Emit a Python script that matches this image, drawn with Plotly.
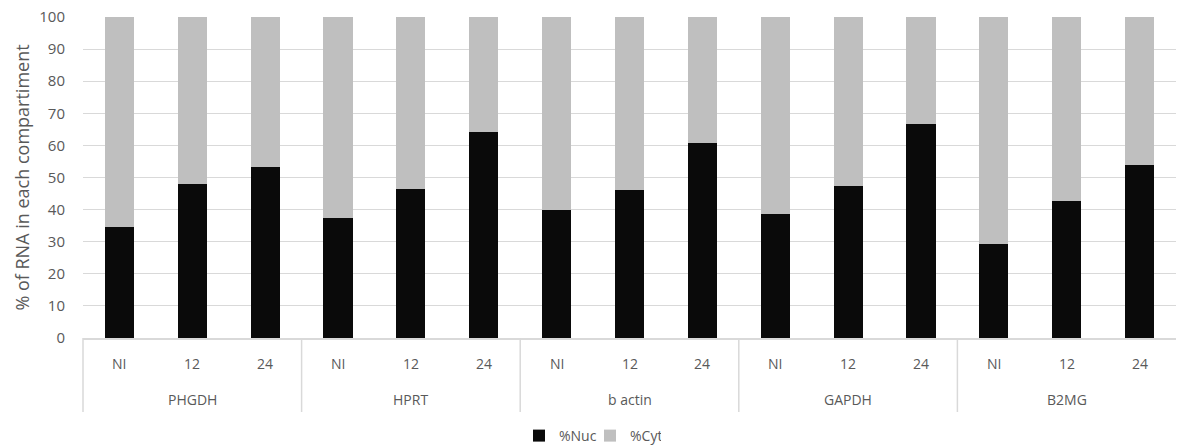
import plotly.graph_objects as go

genes = ["PHGDH", "HPRT", "b actin", "GAPDH", "B2MG"]
times = ["NI", "12", "24"]
nuc = [34.5, 48.1, 53.3, 37.4, 46.5, 64.3, 40.0, 46.0, 60.8, 38.7, 47.5, 66.7, 29.4, 42.8, 53.8]
cyt = [100 - v for v in nuc]

cats = [f"{g}|{t}" for g in genes for t in times]
n_t = len(times)

font_color = "#595959"
grid_color = "#d9d9d9"
FONT = "Open Sans"

fig = go.Figure()
fig.add_trace(go.Bar(x=cats, y=nuc, name="%Nuc",
                     marker=dict(color="#0a0a0a", line=dict(width=0))))
fig.add_trace(go.Bar(x=cats, y=cyt, name="%Cyt",
                     marker=dict(color="#bfbfbf", line=dict(width=0))))

annotations = []
# inner labels (time points)
for c in cats:
    annotations.append(dict(x=c, y=0, xref="x", yref="paper", text=c.split("|")[1],
                            showarrow=False, yanchor="middle", yshift=-25,
                            font=dict(family=FONT, size=14, color=font_color)))
# outer labels (genes), centred under middle category
for gi, g in enumerate(genes):
    annotations.append(dict(x=gi * n_t + (n_t - 1) / 2, y=0, xref="x", yref="paper", text=g,
                            showarrow=False, yanchor="middle", yshift=-61,
                            font=dict(family=FONT, size=14, color=font_color)))

W, H = 1180, 446
M_L, M_R, M_T, M_B = 83, 4, 17, 108
plot_h = H - M_T - M_B
div_depth = -74 / plot_h
shapes = [dict(type="line", xref="paper", yref="paper", x0=0, x1=0, y0=0, y1=div_depth,
               line=dict(color=grid_color, width=1.5))]
for gi in range(1, len(genes)):
    xpos = gi * n_t - 0.5
    shapes.append(dict(type="line", xref="x", yref="paper", x0=xpos, x1=xpos, y0=0, y1=div_depth,
                       line=dict(color=grid_color, width=1.5)))

fig.update_layout(
    barmode="stack",
    bargap=0.6,
    width=W, height=H,
    margin=dict(l=M_L, r=M_R, t=M_T, b=M_B),
    paper_bgcolor="white", plot_bgcolor="white",
    font=dict(family=FONT, size=14, color=font_color),
    showlegend=True,
    legend=dict(orientation="h", x=0.5, xanchor="center", xref="container",
                yref="container", y=1 - 436 / H, yanchor="middle",
                font=dict(family=FONT, size=14, color=font_color), traceorder="normal",
                itemwidth=30, tracegroupgap=0, entrywidth=26),
    annotations=annotations,
    shapes=shapes,
    xaxis=dict(type="category", showline=True, linecolor=grid_color, linewidth=1.5,
               showgrid=False, showticklabels=False, ticks="", automargin=False,
               range=[-0.5, len(cats) - 0.5]),
    yaxis=dict(range=[0, 100], dtick=10, showgrid=True, gridcolor=grid_color, gridwidth=1.3,
               zeroline=False, showline=False, ticks="outside", ticklen=14,
               tickcolor="rgba(0,0,0,0)", automargin=False, ticklabeloverflow="allow",
               tickfont=dict(family=FONT, size=15, color=font_color),
               title=dict(text="% of RNA in each compartiment",
                          font=dict(family=FONT, size=18, color=font_color), standoff=4)),
)
fig.write_html("out.html", config={"displayModeBar": False},
               post_script="document.body.style.margin='0';document.body.style.padding='0';")
